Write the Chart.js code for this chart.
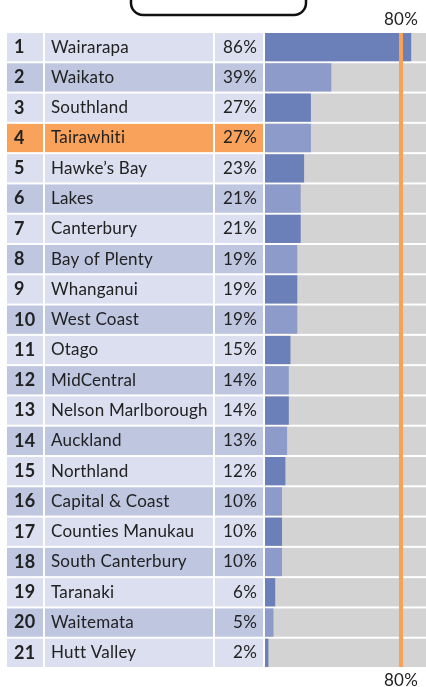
<!DOCTYPE html>
<html>
<head>
<meta charset="utf-8">
<title>DHB ranking</title>
<script src="https://cdn.jsdelivr.net/npm/chart.js@4.4.1/dist/chart.umd.min.js"></script>
<style>
  html, body { margin: 0; padding: 0; background: #fff; }
  #wrap { width: 426px; height: 687px; }
</style>
</head>
<body>
<div id="wrap"><canvas id="rankChart" width="426" height="687"></canvas></div>
<script>
// values
var ranks = [1, 2, 3, 4, 5, 6, 7, 8, 9, 10, 11, 12, 13, 14, 15, 16, 17, 18, 19, 20, 21];
var regions = ["Wairarapa", "Waikato", "Southland", "Tairawhiti", "Hawke\u2019s Bay", "Lakes",
  "Canterbury", "Bay of Plenty", "Whanganui", "West Coast", "Otago", "MidCentral",
  "Nelson Marlborough", "Auckland", "Northland", "Capital & Coast", "Counties Manukau",
  "South Canterbury", "Taranaki", "Waitemata", "Hutt Valley"];
var shares = [86, 39, 27, 27, 23, 21, 21, 19, 19, 19, 15, 14, 14, 13, 12, 10, 10, 10, 6, 5, 2];
var target = 80;
var highlight = "Tairawhiti";

var FONT = "Lato, sans-serif";
var rowLight = '#dcdfef', rowDark = '#bec6e0';
var barDark = '#6b80b8', barLight = '#8c9bca';
var trackGrey = '#d3d3d3', orange = '#f9a25b';

var pctLabels = shares.map(function (v) { return v + '%'; });
var barColors = shares.map(function (v, i) { return i % 2 ? barLight : barDark; });

// table cells behind the axis labels, target line on top of the bars
var tablePlugin = {
  id: 'tableCells',
  beforeDraw: function (chart) {
    var c = chart.ctx, area = chart.chartArea;
    var ya = chart.scales.y, yr = chart.scales.yRank, yp = chart.scales.yPct;
    var rowH = (ya.bottom - ya.top) / regions.length;
    // tiny spacing keeps Lato from joining "ti" into a ligature
    if ('letterSpacing' in c) c.letterSpacing = '0.2px';
    c.save();
    c.fillStyle = '#fff';
    c.fillRect(0, 0, chart.width, chart.height);
    regions.forEach(function (name, i) {
      var top = ya.getPixelForValue(i) - rowH / 2 + 1, h = rowH - 2;
      c.fillStyle = name === highlight ? orange : (i % 2 ? rowDark : rowLight);
      c.fillRect(yr.left - 7, top, ya.left - yr.left - 1, h);
      c.fillRect(ya.left - 6, top, yp.left - ya.left + 4, h);
      c.fillRect(yp.left, top, yp.right - yp.left - 2, h);
      c.fillStyle = trackGrey;
      c.fillRect(area.left, top, area.right - area.left, h);
    });
    c.restore();
  },
  afterDatasetsDraw: function (chart) {
    var c = chart.ctx, area = chart.chartArea;
    var x = chart.scales.x.getPixelForValue(target);
    c.save();
    c.fillStyle = '#f9a257';
    c.fillRect(x - 2, area.top + 1, 4, area.bottom - area.top - 2);
    c.restore();
  },
  afterDraw: function (chart) {
    var c = chart.ctx;
    c.save();
    c.lineWidth = 2.5;
    c.strokeStyle = '#111';
    c.beginPath();
    c.roundRect(131, -30, 175, 45, 12);
    c.stroke();
    c.restore();
  }
};

function onlyTarget(scale) { scale.ticks = [{ value: target }]; }
function pct(v) { return v + '%'; }

var ctx = document.getElementById('rankChart').getContext('2d');
var rankChart = new Chart(ctx, {
  type: 'bar',
  data: {
    labels: regions,
    datasets: [{
      data: shares,
      backgroundColor: barColors,
      borderWidth: 0,
      barPercentage: 0.934,
      categoryPercentage: 1
    }]
  },
  options: {
    indexAxis: 'y',
    responsive: false,
    animation: false,
    devicePixelRatio: 1,
    layout: { padding: { left: 14, right: 0, top: 0, bottom: 0 } },
    plugins: { legend: { display: false }, tooltip: { enabled: false } },
    scales: {
      x: {
        type: 'linear', position: 'bottom', min: 0, max: 94.7,
        afterBuildTicks: onlyTarget,
        afterFit: function (s) { s.height = 19; },
        grid: { display: false }, border: { display: false },
        ticks: { callback: pct, padding: -6, color: '#222', font: { family: FONT, size: 17 } }
      },
      x2: {
        type: 'linear', position: 'top', min: 0, max: 94.7,
        afterBuildTicks: onlyTarget,
        afterFit: function (s) { s.height = 32; },
        grid: { display: false }, border: { display: false },
        ticks: { callback: pct, padding: -6, color: '#222', font: { family: FONT, size: 17 } }
      },
      yRank: {
        type: 'category', position: 'left', labels: ranks, offset: true, weight: 3,
        afterFit: function (s) { s.width = 37; },
        grid: { display: false }, border: { display: false },
        ticks: { autoSkip: false, crossAlign: 'far', color: '#222', font: { family: FONT, size: 18, weight: 'bold' } }
      },
      y: {
        type: 'category', position: 'left', offset: true, weight: 2,
        afterFit: function (s) { s.width = 164; },
        grid: { display: false }, border: { display: false },
        ticks: { autoSkip: false, crossAlign: 'far', color: '#222', font: { family: FONT, size: 17 } }
      },
      yPct: {
        type: 'category', position: 'left', labels: pctLabels, offset: true, weight: 1,
        afterFit: function (s) { s.width = 50; },
        grid: { display: false, drawTicks: false }, border: { display: false },
        ticks: { autoSkip: false, crossAlign: 'near', padding: 8, color: '#222', font: { family: FONT, size: 17 } }
      }
    }
  },
  plugins: [tablePlugin]
});
</script>
</body>
</html>
